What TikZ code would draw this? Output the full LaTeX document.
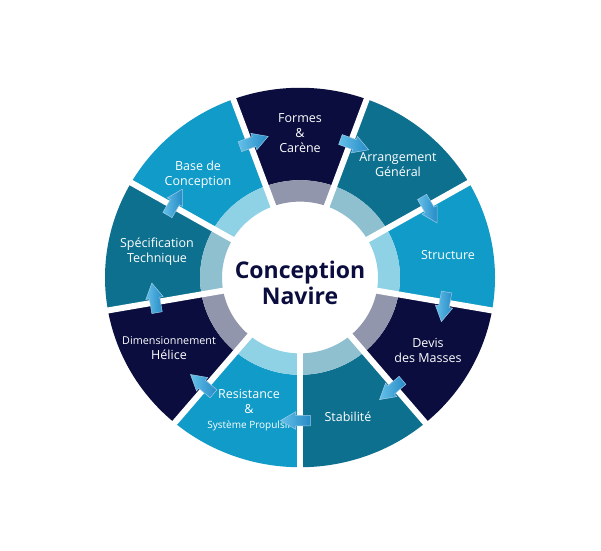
\documentclass[tikz,border=0pt]{standalone}
\usepackage{fontspec}
\setmainfont{Open Sans}
\usepackage{xcolor}
\usepackage{tikz}
\usetikzlibrary{shapes,arrows,positioning,calc}

\definecolor{segnavy}{RGB}{10,13,62}
\definecolor{segteal}{RGB}{14,112,143}
\definecolor{segblue}{RGB}{16,155,200}
\definecolor{ringnavy}{RGB}{146,150,172}
\definecolor{ringteal}{RGB}{143,192,207}
\definecolor{ringblue}{RGB}{143,209,229}
\definecolor{flowlight}{RGB}{100,192,232}
\definecolor{flowdark}{RGB}{38,138,198}

\tikzset{
    segtext/.style={text=white, align=center, font=\fontsize{12.5}{15}\selectfont},
    flow/.style={single arrow, inner sep=5pt, minimum height=30pt,
        single arrow head extend=3.5pt, single arrow tip angle=60,
        left color=flowlight, right color=flowdark, draw=white!55!flowdark, line width=0.5pt}
}

\begin{document}
\begin{tikzpicture}[x=1pt, y=1pt]
    \fill [white] (0, 0) rectangle (601, 550);
    \useasboundingbox (0, 0) rectangle (601, 550);

    \begin{scope}[shift={(300, 272.5)}, yscale=0.973]
        % Segments and inner ring
        \foreach \a/\c/\r [evaluate=\a as \b using \a+40] in {70/segnavy/ringnavy, 30/segteal/ringteal, -10/segblue/ringblue, -50/segnavy/ringnavy, -90/segteal/ringteal, -130/segblue/ringblue, -170/segnavy/ringnavy, -210/segteal/ringteal, -250/segblue/ringblue} {
            \fill [\c] (\a:100) arc [start angle=\a, end angle=\b, radius=100] -- (\b:195) arc [start angle=\b, end angle=\a, radius=195] -- cycle;
            \fill [\r] (\a:78) arc [start angle=\a, end angle=\b, radius=78] -- (\b:100) arc [start angle=\b, end angle=\a, radius=100] -- cycle;
        }
    \end{scope}

    % Texts
    \node [segtext] (formes) at (300, 417) {Formes\\\&\\Carène};
    \node [segtext] (arrangement) at (398, 385) {Arrangement\\Général};
    \node [segtext] (structure) at (448, 295) {Structure};
    \node [segtext] (devis) at (428, 200) {Devis\\des Masses};
    \node [segtext] (stabilite) at (348, 133) {Stabilité};
    \node [segtext] (resistance) at (249, 140) {Resistance\\\&\\{\fontsize{10}{11}\selectfont Système Propulsif}};
    \node [segtext] (helice) at (169, 202) {{\fontsize{10.8}{12}\selectfont Dimensionnement}\\Hélice};
    \node [segtext] (specification) at (157, 298) {Spécification\\Technique};
    \node [segtext] (base) at (198, 375) {Base de\\Conception};
    \node [align=center, text=segnavy, font=\bfseries\fontsize{23}{26}\selectfont] (centre) at (300, 267.5) {Conception\\Navire};

    \begin{scope}[shift={(300, 272.5)}, yscale=0.973]
        % Gaps
        \foreach \a in {70, 30, -10, -50, -90, -130, -170, -210, -250}
            \draw [white, line width=6pt] (\a:70) -- (\a:200);
        % Arrows
        \foreach \a [count=\i] in {110, 70, 30, -10, -50, -90, -130, -170, -210}
            \node [flow, rotate=\a-90] (flow\i) at (\a:147) {};
    \end{scope}
\end{tikzpicture}
\end{document}
